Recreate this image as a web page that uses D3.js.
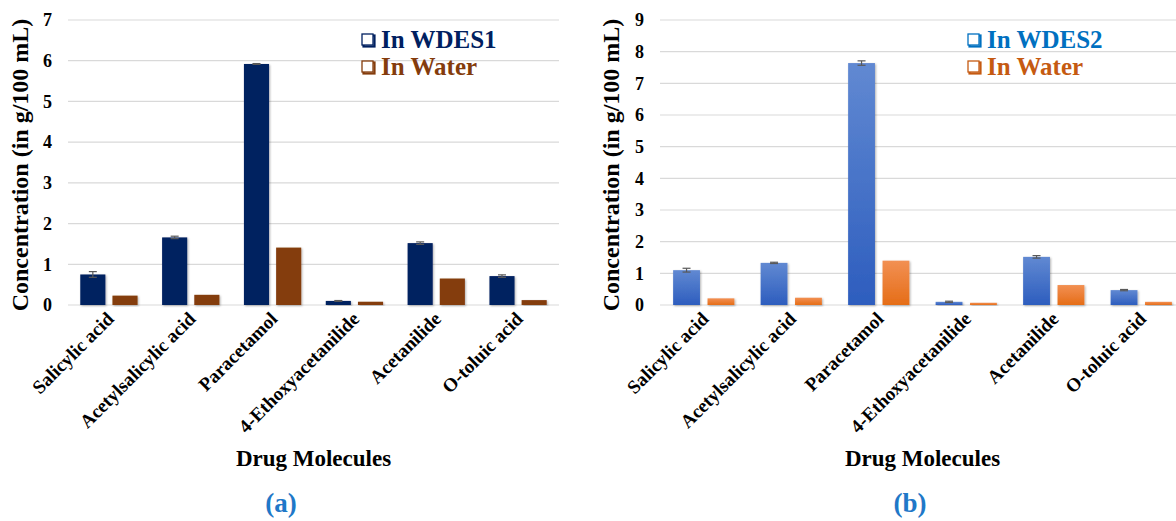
<!DOCTYPE html>
<html><head><meta charset="utf-8">
<script src="https://cdn.jsdelivr.net/npm/d3@7"></script>
<style>
html,body{margin:0;padding:0;background:#fff;}
svg{display:block;}
text{font-family:"Liberation Serif","Times New Roman",serif;font-weight:bold;}
</style></head>
<body>
<svg id="chart" width="1176" height="521"></svg>
<script>
const categories = ["Salicylic acid","Acetylsalicylic acid","Paracetamol","4-Ethoxyacetanilide","Acetanilide","O-toluic acid"];
const wdes1 = [0.75, 1.66, 5.92, 0.10, 1.52, 0.71];
const wdes1Err = [0.07, 0.03, 0.01, 0.01, 0.03, 0.03];
const water1 = [0.23, 0.25, 1.41, 0.08, 0.65, 0.12];
const wdes2 = [1.10, 1.33, 7.64, 0.10, 1.52, 0.47];
const wdes2Err = [0.06, 0.02, 0.07, 0.02, 0.04, 0.02];
const water2 = [0.21, 0.23, 1.40, 0.07, 0.63, 0.10];
const ticksA = [0,1,2,3,4,5,6,7];
const ticksB = [0,1,2,3,4,5,6,7,8,9];
const seriesA = ["In WDES1","In Water"];
const seriesB = ["In WDES2","In Water"];

const svg = d3.select("#chart");
const defs = svg.append("defs");
const sh = defs.append("filter").attr("id","shadow").attr("x","-20%").attr("y","-20%").attr("width","140%").attr("height","140%");
sh.append("feDropShadow").attr("dx",1).attr("dy",1).attr("stdDeviation",1).attr("flood-color","#000").attr("flood-opacity",0.3);
function grad(id, top, bottom){
  const g = defs.append("linearGradient").attr("id",id).attr("x1",0).attr("y1",0).attr("x2",0).attr("y2",1);
  g.append("stop").attr("offset","0%").attr("stop-color",top);
  g.append("stop").attr("offset","100%").attr("stop-color",bottom);
}
grad("gBlue","#6189D2","#2D5DBE");
grad("gOrange","#F29053","#E56D17");

function panel(cfg){
  const g = svg.append("g");
  const y = d3.scaleLinear().domain([0, cfg.ymax]).range([305, 20]);
  const x0 = d3.scaleBand().domain(categories).range([cfg.left, cfg.right]).paddingInner(0.3).paddingOuter(0.15);
  const x1 = d3.scaleBand().domain([0,1]).range([0, x0.bandwidth()]).paddingInner(0.22);

  g.append("g").selectAll("line").data(cfg.ticks).join("line")
    .attr("x1", cfg.left).attr("x2", cfg.right)
    .attr("y1", d=>y(d)).attr("y2", d=>y(d))
    .attr("stroke","#D9D9D9").attr("stroke-width",1.2);

  const ax = d3.axisLeft(y).tickValues(cfg.ticks).tickSize(0).tickPadding(16).tickFormat(d3.format("d"));
  const ag = g.append("g").attr("transform",`translate(${cfg.left},0)`).call(ax);
  ag.attr("font-family",null).attr("font-size",null);
  ag.select(".domain").remove();
  ag.selectAll("text").attr("font-size",18).attr("fill","#000");

  const series = [cfg.s1, cfg.s2];
  series.forEach((vals, si)=>{
    g.append("g").selectAll("rect").data(vals).join("rect")
      .attr("x",(d,i)=>x0(categories[i]) + x1(si))
      .attr("width", x1.bandwidth())
      .attr("y", d=>y(d))
      .attr("height", d=>y(0)-y(d))
      .attr("fill", cfg.fills[si])
      .attr("filter","url(#shadow)");
  });
  const eg = g.append("g").attr("stroke","#595959").attr("stroke-width",1.2);
  cfg.s1.forEach((v,i)=>{
    const cx = x0(categories[i]) + x1(0) + x1.bandwidth()/2;
    const e = cfg.err[i];
    eg.append("line").attr("x1",cx).attr("x2",cx).attr("y1",y(v-e)).attr("y2",y(v+e));
    eg.append("line").attr("x1",cx-4).attr("x2",cx+4).attr("y1",y(v+e)).attr("y2",y(v+e));
    eg.append("line").attr("x1",cx-4).attr("x2",cx+4).attr("y1",y(v-e)).attr("y2",y(v-e));
  });

  g.append("g").selectAll("text").data(categories).join("text")
    .attr("transform", d=>`translate(${x0(d)+x0.bandwidth()/2+6},${320}) rotate(-45)`)
    .attr("text-anchor","end").attr("font-size",19).attr("fill","#000").text(d=>d);

  g.append("text").attr("x",(cfg.left+cfg.right)/2).attr("y",466).attr("text-anchor","middle")
    .attr("font-size",23).attr("fill","#000").text("Drug Molecules");
  g.append("text").attr("transform",`translate(${cfg.titleX},${165}) rotate(-90)`).attr("text-anchor","middle")
    .attr("font-size",24).attr("fill","#000").text("Concentration (in g/100 mL)");
  g.append("text").attr("x",cfg.labelX).attr("y",512).attr("text-anchor","middle")
    .attr("font-size",27).attr("fill","#1F78C8").text(cfg.label);

  cfg.legend.forEach((name, i)=>{
    const ly = 48 + i*27;
    const c = cfg.legendColors[i];
    const sx = cfg.legX, sy = ly - 14;
    g.append("rect").attr("x",sx+1.5).attr("y",sy+1.5).attr("width",11).attr("height",11)
      .attr("fill","none").attr("stroke",c).attr("stroke-width",2.2);
    g.append("rect").attr("x",sx).attr("y",sy).attr("width",11).attr("height",11)
      .attr("fill","#fff").attr("stroke",c).attr("stroke-width",1.3);
    g.append("text").attr("x",sx+19).attr("y",ly).attr("font-size",25).attr("fill",c).text(name);
  });
}

panel({left:68, right:559, ymax:7, ticks:ticksA, s1:wdes1, s2:water1, err:wdes1Err,
  fills:["#002060","#843C0C"], titleX:28, label:"(a)", labelX:281,
  legend:seriesA, legendColors:["#002060","#843C0C"], legX:362});
panel({left:660, right:1185, ymax:9, ticks:ticksB, s1:wdes2, s2:water2, err:wdes2Err,
  fills:["url(#gBlue)","url(#gOrange)"], titleX:619, label:"(b)", labelX:910,
  legend:seriesB, legendColors:["#0070C0","#C55A11"], legX:968});
</script>
</body></html>
